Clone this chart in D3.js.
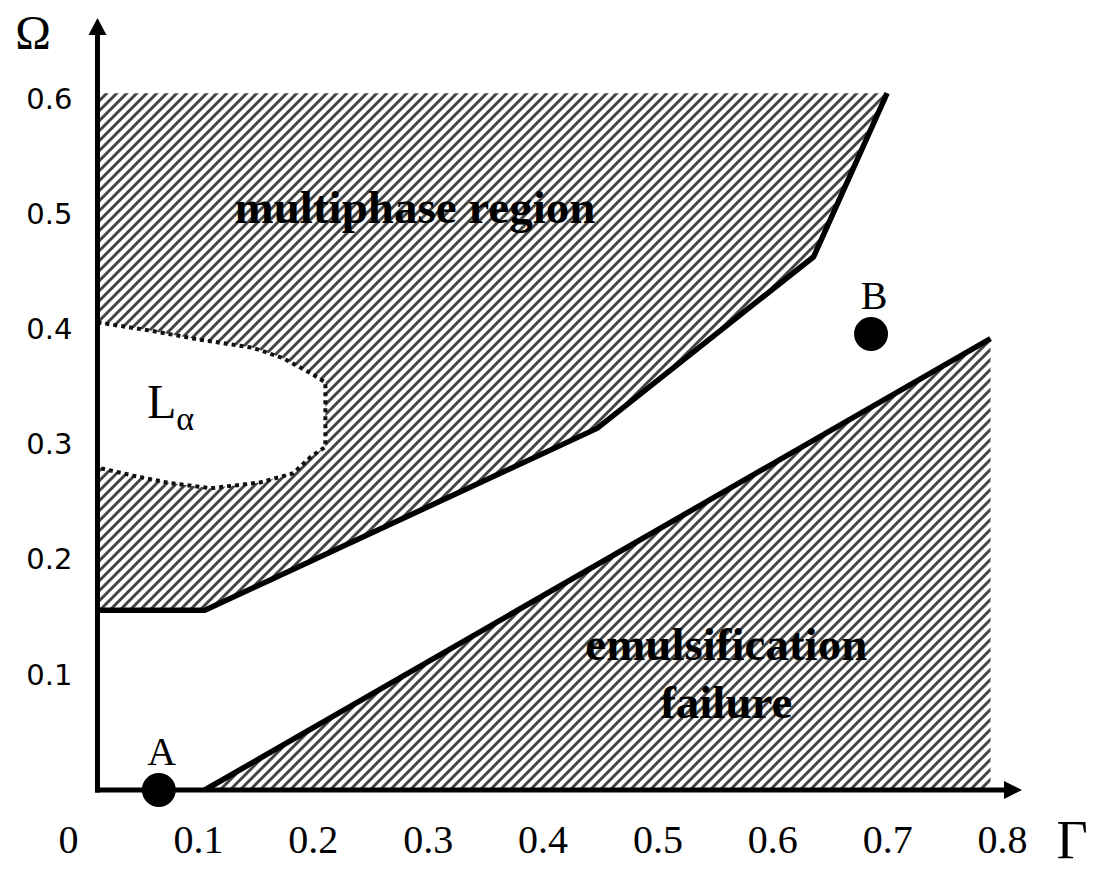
<!DOCTYPE html>
<html>
<head>
<meta charset="utf-8">
<script src="https://cdn.jsdelivr.net/npm/d3@7"></script>
<style>
  body { margin: 0; background: #fff; }
  .serif { font-family: 'Liberation Serif', 'Times New Roman', serif; }
</style>
</head>
<body>
<div class="canvas"></div>
<script>
// tick labels
const gammaTicks = [0, 0.1, 0.2, 0.3, 0.4, 0.5, 0.6, 0.7, 0.8]
const omegaTicks = [0.1, 0.2, 0.3, 0.4, 0.5, 0.6]

// where the axes cross (Gamma of the vertical axis) and top of the diagram
const gammaOrigin = 0.0126
const omegaTop = 0.605

// phase boundaries as [Gamma, Omega]
const multiphaseBoundary = [
  [0.700, 0.605],
  [0.636, 0.463],
  [0.4475, 0.314],
  [0.106, 0.156],
  [0.0126, 0.156],
]
const emulsificationBoundary = [
  [0.106, 0],
  [0.790, 0.392],
]
const lamellarBoundary = [
  [0.0126, 0.406],
  [0.058, 0.399],
  [0.102, 0.391],
  [0.148, 0.384],
  [0.174, 0.375],
  [0.198, 0.362],
  [0.211, 0.354],
  [0.211, 0.298],
  [0.198, 0.289],
  [0.183, 0.275],
  [0.154, 0.267],
  [0.111, 0.262],
  [0.073, 0.267],
  [0.0435, 0.273],
  [0.0126, 0.280],
]

// marked states
const pointNames = ['A', 'B']
const pointGamma = [0.066, 0.686]
const pointOmega = [0.0, 0.396]

// chart dimensions
const dimensions = { width: 1095, height: 870 }

const svg = d3
  .select('.canvas')
  .append('svg')
  .attr('width', dimensions.width)
  .attr('height', dimensions.height)

// scales
const x = d3.scaleLinear().domain([0, 0.8]).range([83, 1002])
const y = d3.scaleLinear().domain([0, 0.6]).range([790, 99])

// hatch pattern
const defs = svg.append('defs')
defs
  .append('pattern')
  .attr('id', 'hatch')
  .attr('patternUnits', 'userSpaceOnUse')
  .attr('width', 10)
  .attr('height', 10)
  .append('path')
  .attr('d', 'M-1,1 l2,-2 M0,10 l10,-10 M9,11 l2,-2')
  .attr('stroke', '#444')
  .attr('stroke-width', 3)

const line = d3
  .line()
  .x((d) => x(d[0]))
  .y((d) => y(d[1]))

// multiphase region fill
const multiphaseArea = [[gammaOrigin, omegaTop], ...multiphaseBoundary]
svg
  .append('path')
  .attr('d', line(multiphaseArea) + 'Z')
  .attr('fill', 'url(#hatch)')

// emulsification failure fill
const emulsArea = [
  ...emulsificationBoundary,
  [emulsificationBoundary[1][0], 0],
]
svg
  .append('path')
  .attr('d', line(emulsArea) + 'Z')
  .attr('fill', 'url(#hatch)')

// lamellar pocket
svg
  .append('path')
  .attr('d', line(lamellarBoundary) + 'Z')
  .attr('fill', '#fff')
svg
  .append('path')
  .attr('d', line(lamellarBoundary))
  .attr('fill', 'none')
  .attr('stroke', '#111')
  .attr('stroke-width', 4)
  .attr('stroke-dasharray', '4 4')

// solid boundaries
;[multiphaseBoundary, emulsificationBoundary].forEach((b) => {
  svg
    .append('path')
    .attr('d', line(b))
    .attr('fill', 'none')
    .attr('stroke', '#000')
    .attr('stroke-width', 5.5)
    .attr('stroke-linejoin', 'round')
})

// axes lines with arrows
const ax = x(gammaOrigin)
const ay = y(0)
svg
  .append('line')
  .attr('x1', ax)
  .attr('y1', ay + 2.5)
  .attr('x2', ax)
  .attr('y2', 30)
  .attr('stroke', '#000')
  .attr('stroke-width', 5)
svg
  .append('path')
  .attr('d', `M${ax},18 L${ax - 9},35 L${ax + 9},35 Z`)
  .attr('fill', '#000')
svg
  .append('line')
  .attr('x1', ax - 2.5)
  .attr('y1', ay)
  .attr('x2', 1010)
  .attr('y2', ay)
  .attr('stroke', '#000')
  .attr('stroke-width', 5)
svg
  .append('path')
  .attr('d', `M1022,${ay} L1004,${ay - 9} L1004,${ay + 9} Z`)
  .attr('fill', '#000')

// tick labels
const xAxis = d3
  .axisBottom(x)
  .tickValues(gammaTicks)
  .tickSize(0)
  .tickFormat((d) => (d === 0 ? '0' : d3.format('.1f')(d)))
const xAxisGroup = svg
  .append('g')
  .attr('transform', `translate(0, ${ay})`)
  .call(xAxis)
xAxisGroup.select('.domain').remove()
xAxisGroup
  .selectAll('text')
  .attr('class', 'serif')
  .attr('font-size', 40)
  .attr('fill', '#000')
  .attr('y', 63)
  .attr('dy', 0)
  .attr('dx', (d) => (d === 0 ? -15 : 0))

const yAxis = d3
  .axisLeft(y)
  .tickValues(omegaTicks)
  .tickSize(0)
  .tickPadding(25)
  .tickFormat(d3.format('.1f'))
const yAxisGroup = svg
  .append('g')
  .attr('transform', `translate(${ax}, 0)`)
  .call(yAxis)
yAxisGroup.select('.domain').remove()
yAxisGroup
  .selectAll('text')
  .attr('font-family', "'DejaVu Sans', sans-serif")
  .attr('font-size', 29)
  .attr('fill', '#000')

// axis titles
svg
  .append('text')
  .attr('class', 'serif')
  .attr('x', 33)
  .attr('y', 49)
  .attr('text-anchor', 'middle')
  .attr('font-size', 48)
  .text('Ω')
svg
  .append('text')
  .attr('class', 'serif')
  .attr('x', 1072)
  .attr('y', 858)
  .attr('text-anchor', 'middle')
  .attr('font-size', 54)
  .text('Γ')

// region labels
svg
  .append('text')
  .attr('class', 'serif')
  .attr('x', x(0.289))
  .attr('y', y(0.492))
  .attr('text-anchor', 'middle')
  .attr('font-size', 47)
  .attr('font-weight', 'bold')
  .text('multiphase region')
const emulsLabel = svg
  .append('text')
  .attr('class', 'serif')
  .attr('text-anchor', 'middle')
  .attr('font-size', 47)
  .attr('font-weight', 'bold')
emulsLabel.append('tspan').attr('x', x(0.56)).attr('y', y(0.113)).text('emulsification')
emulsLabel.append('tspan').attr('x', x(0.56)).attr('y', y(0.0625)).text('failure')

const lam = svg
  .append('text')
  .attr('class', 'serif')
  .attr('x', x(0.0557))
  .attr('y', y(0.323))
  .attr('font-size', 48)
lam.append('tspan').text('L')
lam.append('tspan').attr('font-size', 34).attr('dy', 12).text('α')

// points A and B
const pts = pointNames.map((n, i) => ({ name: n, g: pointGamma[i], o: pointOmega[i] }))
svg
  .selectAll('circle.pt')
  .data(pts)
  .enter()
  .append('circle')
  .attr('class', 'pt')
  .attr('cx', (d) => x(d.g))
  .attr('cy', (d) => y(d.o))
  .attr('r', 17)
  .attr('fill', '#000')
svg
  .selectAll('text.pt')
  .data(pts)
  .enter()
  .append('text')
  .attr('class', 'pt serif')
  .attr('x', (d) => x(d.g) + 3)
  .attr('y', (d) => y(d.o) - 25)
  .attr('text-anchor', 'middle')
  .attr('font-size', 40)
  .text((d) => d.name)
</script>
</body>
</html>
